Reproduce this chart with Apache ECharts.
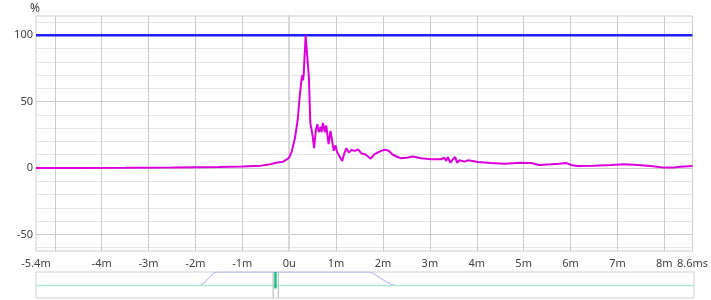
<!DOCTYPE html>
<html>
<head>
<meta charset="utf-8">
<script src="https://cdn.jsdelivr.net/npm/echarts@6/dist/echarts.min.js"></script>
<style>
html,body{margin:0;padding:0;background:#fff;}
#c{width:711px;height:300px;}
</style>
</head>
<body>
<div id="c"></div>
<script>
// ---- data ----
var respTime = [-5.4,-4.5,-3.5,-2.5,-2.0,-1.5,-1.0,-0.6,-0.4,-0.25,-0.13,-0.05,0.0,0.05,0.12,0.18,0.23,0.26,0.28,0.295,0.31,0.35,0.37,0.42,0.45,0.50,0.53,0.57,0.60,0.63,0.67,0.69,0.72,0.76,0.79,0.84,0.88,0.91,0.95,0.99,1.02,1.06,1.13,1.17,1.22,1.27,1.33,1.40,1.47,1.54,1.62,1.74,1.82,1.96,2.04,2.12,2.21,2.30,2.39,2.50,2.64,2.81,3.03,3.24,3.31,3.35,3.38,3.44,3.49,3.54,3.58,3.63,3.74,3.81,3.91,4.02,4.30,4.59,4.94,5.16,5.33,5.36,5.58,5.76,5.90,6.04,6.15,6.50,6.86,7.14,7.43,7.71,7.99,8.17,8.35,8.6];
var respValue = [0,0.1,0.2,0.4,0.6,0.8,1.2,1.8,2.8,4.2,4.8,6.5,8,12,22,36,56,66,70,66,71,100,100,68,34,24,15,29,33,27,31,27,34,27,32,18,28,27,13,17,12,11.5,5.3,10.4,15,11.6,13.6,12.9,14,11,10.4,7,10.4,12.9,13.8,13,10,8.5,7.3,7.8,8.6,7.3,6.6,6.6,7.8,5.3,8.3,4,6.6,8.3,4,5.8,4.8,5.8,5.3,4.5,3.8,3.3,4,3.8,2.3,3.8,2.8,3.3,3.8,2,1.5,1.8,2.3,2.8,2.3,1.5,0.3,0.3,1,1.5];
var refTime = [-5.4, 8.6];
var refValue = [100, 100];

var xTickValues = [-5,-4,-3,-2,-1,0,1,2,3,4,5,6,7,8];
var xLabelValues = [-5.4,-4,-3,-2,-1,0,1,2,3,4,5,6,7,8,8.6];
var xLabelTexts = ['-5.4m','-4m','-3m','-2m','-1m','0u','1m','2m','3m','4m','5m','6m','7m','8m','8.6ms'];
var yMinorValues = [-60,-50,-40,-30,-20,-10,0,10,20,30,40,50,60,70,80,90,100,110];
var yLabelValues = [-50,0,50,100];

// overview strip
var baseTime = [-5.4, 8.6];
var baseLevel = [0.48, 0.48];
var winTime = [-1.91,-1.82,-1.72,-1.63,-1.57,1.70,1.78,1.90,2.05,2.17,2.25];
var winLevel = [0.48,0.58,0.78,0.94,1.0,1.0,0.94,0.8,0.62,0.52,0.48];
var cursorTimes = [-0.355, -0.245];
var markerTime = -0.305;
var markerSpan = [0.37, 1.0];

function pairs(xs, ys){ return xs.map(function(x,i){return [x, ys[i]];}); }

var chart = echarts.init(document.getElementById('c'), null, {renderer:'canvas'});
var font = 'Noto Sans';
var labelMap = {};
xLabelValues.forEach(function(v,i){ labelMap[v.toFixed(2)] = xLabelTexts[i]; });

var series = [
  {type:'line', xAxisIndex:0, yAxisIndex:0, data:pairs(refTime, refValue), showSymbol:false,
   lineStyle:{color:'#1f1fff', width:2.5}, z:3, silent:true},
  {type:'line', xAxisIndex:0, yAxisIndex:0, data:pairs(respTime, respValue), showSymbol:false,
   lineStyle:{color:'#dd00dd', width:2}, z:4, silent:true},
  {type:'line', xAxisIndex:1, yAxisIndex:2, data:pairs(winTime, winLevel), showSymbol:false,
   lineStyle:{color:'#a9aef2', width:1}, z:3, silent:true},
  {type:'line', xAxisIndex:1, yAxisIndex:2, data:pairs(baseTime, baseLevel), showSymbol:false,
   lineStyle:{color:'#aeead6', width:1.5}, z:4, silent:true}
];
cursorTimes.forEach(function(t){
  series.push({type:'line', xAxisIndex:1, yAxisIndex:2, data:[[t,0],[t,1]], showSymbol:false,
    lineStyle:{color:'#b4b4b4', width:1}, z:5, silent:true});
});
series.push({type:'line', xAxisIndex:1, yAxisIndex:2, data:[[markerTime,markerSpan[0]],[markerTime,markerSpan[1]]], showSymbol:false,
  lineStyle:{color:'#18c08c', width:2.5}, z:6, silent:true});

chart.setOption({
  animation:false,
  backgroundColor:'#ffffff',
  textStyle:{fontFamily:font},
  title:{text:'%', left:25, top:-2, textStyle:{fontSize:12, fontWeight:'normal', color:'#404040', fontFamily:font}},
  grid:[
    {left:36, right:17, top:16, height:235, show:true, borderColor:'#cccccc', borderWidth:1, containLabel:false},
    {left:36, right:17, top:272, height:26, show:true, borderColor:'#d0d0d0', borderWidth:1, containLabel:false}
  ],
  xAxis:[
    {type:'value', gridIndex:0, min:-5.4, max:8.6,
     axisLine:{show:true, lineStyle:{color:'#cccccc'}},
     axisTick:{show:false, customValues:xTickValues},
     splitLine:{show:true, lineStyle:{color:'#cccccc', width:1}},
     axisLabel:{show:true, customValues:xLabelValues, color:'#404040', fontSize:11, fontFamily:font, margin:7,
       hideOverlap:false, showMinLabel:true, showMaxLabel:true,
       formatter:function(v){ var k = Number(v).toFixed(2); return labelMap[k] !== undefined ? labelMap[k] : ''; }}},
    {type:'value', gridIndex:1, min:-5.4, max:8.6, show:false,
     axisTick:{show:false}, splitLine:{show:false}, axisLabel:{show:false}}
  ],
  yAxis:[
    {type:'value', gridIndex:0, min:-62.5, max:114.5,
     axisLine:{show:true, lineStyle:{color:'#d8d8d8', width:2}},
     axisTick:{show:false, customValues:yMinorValues},
     splitLine:{show:true, lineStyle:{color:'#e6e6e6', width:1}},
     axisLabel:{show:true, customValues:yLabelValues, color:'#404040', fontSize:11, fontFamily:font, margin:3}},
    {type:'value', gridIndex:0, min:-62.5, max:114.5, position:'left',
     axisLine:{show:false}, axisTick:{show:false, customValues:yLabelValues},
     splitLine:{show:true, lineStyle:{color:'#cccccc', width:1}},
     axisLabel:{show:false}},
    {type:'value', gridIndex:1, min:0, max:1, show:false, splitLine:{show:false}}
  ],
  series:series
});
</script>
</body>
</html>
